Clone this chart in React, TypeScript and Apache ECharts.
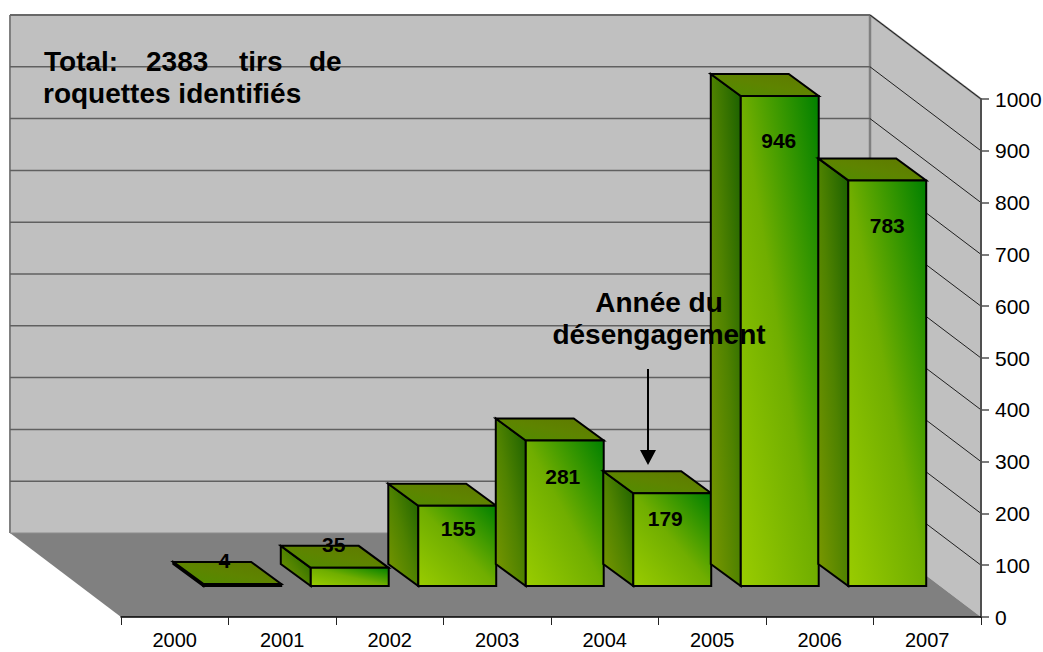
import React, { useEffect, useRef } from "react";
import * as echarts from "echarts";

const years = ["2000", "2001", "2002", "2003", "2004", "2005", "2006", "2007"];
const rockets = [0, 4, 35, 155, 281, 179, 946, 783];
const wallTicks = [100, 200, 300, 400, 500, 600, 700, 800, 900, 1000];
// the original chart's labels were hand placed: offset from the front-face centre / top
const labelDx = [0, -18, -16, 1, -2, -7, -1, 0];
const labelDy = [0, -23, -23, 23, 36, 25, 45, 45];

const FONT = '"Liberation Sans", Arial, sans-serif';
const DEPTH_X = 111;
const DEPTH_Y = 84;
const BAR_DX = 30;
const BAR_DY = 22;
const BAR_LIFT_Y = 31;
const BAR_LIFT_X = 40;

const diag = (a: string, m: string, b: string) => ({
  type: "linear", x: 0, y: 1, x2: 1, y2: 0,
  colorStops: [{ offset: 0, color: a }, { offset: 0.5, color: m }, { offset: 1, color: b }],
});

const poly = (points: number[][], fill: any, stroke?: string, lineWidth = 2) => ({
  type: "polygon",
  shape: { points },
  style: { fill, stroke: stroke || "none", lineWidth, lineJoin: "miter" },
});

const line = (a: number[], b: number[], stroke: string, lineWidth: number) => ({
  type: "line",
  shape: { x1: a[0], y1: a[1], x2: b[0], y2: b[1] },
  style: { stroke, lineWidth },
});

export default function App() {
  const ref = useRef<HTMLDivElement>(null);
  useEffect(() => {
    const chart = echarts.init(ref.current!, null, { renderer: "svg" });

    const wallsItem = (params: any) => {
      const { x, y, width: w, height: h } = params.coordSys;
      const b = y + h;
      const r = x + w;
      const bx = x - DEPTH_X;
      const brx = r - DEPTH_X;
      const by = y - DEPTH_Y;
      const bb = b - DEPTH_Y;
      return {
        type: "group",
        children: [
          poly([[bx, by], [brx, by], [brx, bb], [bx, bb]], "#c0c0c0"),
          poly([[brx, by], [r, y], [r, b], [brx, bb]], "#c0c0c0"),
          poly([[bx, bb], [brx, bb], [r, b], [x, b]], "#808080"),
          line([bx, bb], [bx, by], "#808080", 2),
          line([bx, by], [brx, by], "#808080", 2),
          line([brx, by], [r, y], "#808080", 2),
          line([brx, by], [brx, bb], "#808080", 2.5),
          line([bx, bb], [brx, bb], "#8c8c8c", 1),
        ],
      };
    };

    const gridItem = (params: any, api: any) => {
      const { x, width: w } = params.coordSys;
      const r = x + w;
      const py = api.coord([0, api.value(0)])[1];
      return {
        type: "group",
        children: [
          line([x - DEPTH_X, py - DEPTH_Y], [r - DEPTH_X, py - DEPTH_Y], "#606060", 1.5),
          line([r - DEPTH_X, py - DEPTH_Y], [r, py], "#202020", 1),
        ],
      };
    };

    const barItem = (params: any, api: any) => {
      const i = api.value(0);
      const v = api.value(1);
      const band = api.size([1, 0])[0];
      const cx = api.coord([i, 0])[0];
      const y0 = api.coord([i, 0])[1];
      const top = api.coord([i, v])[1];
      const fw = band * 0.725;
      const l = cx - BAR_LIFT_X - fw / 2;
      const r = l + fw;
      const base = y0 - BAR_LIFT_Y;
      const t = top - BAR_LIFT_Y;
      return {
        type: "group",
        children: [
          poly(
            [[l, t], [l - BAR_DX, t - BAR_DY], [l - BAR_DX, base - BAR_DY], [l, base]],
            diag("#7a9800", "#4f8200", "#1a6000"), "#000", 2),
          poly(
            [[l, t], [l - BAR_DX, t - BAR_DY], [r - BAR_DX, t - BAR_DY], [r, t]],
            diag("#4f8e00", "#5e8400", "#5f7800"), "#000", 2),
          poly([[l, t], [r, t], [r, base], [l, base]], diag("#99cc00", "#70ae00", "#008000"), "#000", 2),
          {
            type: "text",
            x: l + fw / 2 + labelDx[i],
            y: t + labelDy[i],
            style: {
              text: String(v),
              fontFamily: FONT,
              fontWeight: "bold",
              fontSize: 21,
              fill: "#000",
              align: "center",
              verticalAlign: "middle",
            },
          },
        ],
      };
    };

    const note = (text: string, x: number, y: number, align = "left") => ({
      type: "text",
      x, y, z: 100,
      style: { text, font: `bold 28px ${FONT}`, fill: "#000", align, verticalAlign: "middle" },
    });

    chart.setOption({
      animation: false,
      backgroundColor: "#fff",
      grid: { left: 121, top: 99, width: 860, height: 518, outerBoundsMode: "none" },
      xAxis: {
        type: "category",
        data: years,
        z: 3,
        axisLine: { lineStyle: { color: "#000", width: 1.5 } },
        axisTick: { show: true, length: 8, alignWithLabel: false, lineStyle: { color: "#222", width: 1 } },
        axisLabel: { fontFamily: FONT, fontSize: 20, color: "#000", margin: 13 },
      },
      yAxis: {
        type: "value",
        position: "right",
        min: 0,
        max: 1000,
        interval: 100,
        z: 3,
        axisLine: { show: true, lineStyle: { color: "#505050", width: 2 } },
        axisTick: { show: true, length: 8, lineStyle: { color: "#505050", width: 1.5 } },
        splitLine: { show: false },
        axisLabel: { fontFamily: FONT, fontSize: 21, color: "#000", margin: 14, align: "left", padding: [0, 0, 2, 0], formatter: (v: number) => String(v) },
      },
      series: [
        { type: "custom", silent: true, z: 1, renderItem: wallsItem, data: [0], encode: { x: 0, y: 0 } },
        { type: "custom", silent: true, z: 2, renderItem: gridItem, data: wallTicks.map((t) => [t]), encode: { y: 0 } },
        {
          type: "custom", silent: true, z: 5, renderItem: barItem,
          data: rockets.map((v, i) => [i, v]).filter((d) => d[1] > 0),
          encode: { x: 0, y: 1 },
        },
      ],
      graphic: [
        note("Total:", 44, 61),
        note("2383", 146, 61),
        note("tirs", 239, 61),
        note("de", 309, 61),
        note("roquettes identifiés", 43, 93),
        note("Année du", 659, 302, "center"),
        note("désengagement", 659, 334, "center"),
        { type: "line", z: 100, shape: { x1: 648, y1: 369, x2: 648, y2: 452 }, style: { stroke: "#000", lineWidth: 2 } },
        { type: "polygon", z: 100, shape: { points: [[640, 450], [656, 450], [648, 465]] }, style: { fill: "#000" } },
      ],
    });
    return () => chart.dispose();
  }, []);
  return <div ref={ref} style={{ position: "absolute", left: 0, top: 0, width: 1043, height: 652 }} />;
}
